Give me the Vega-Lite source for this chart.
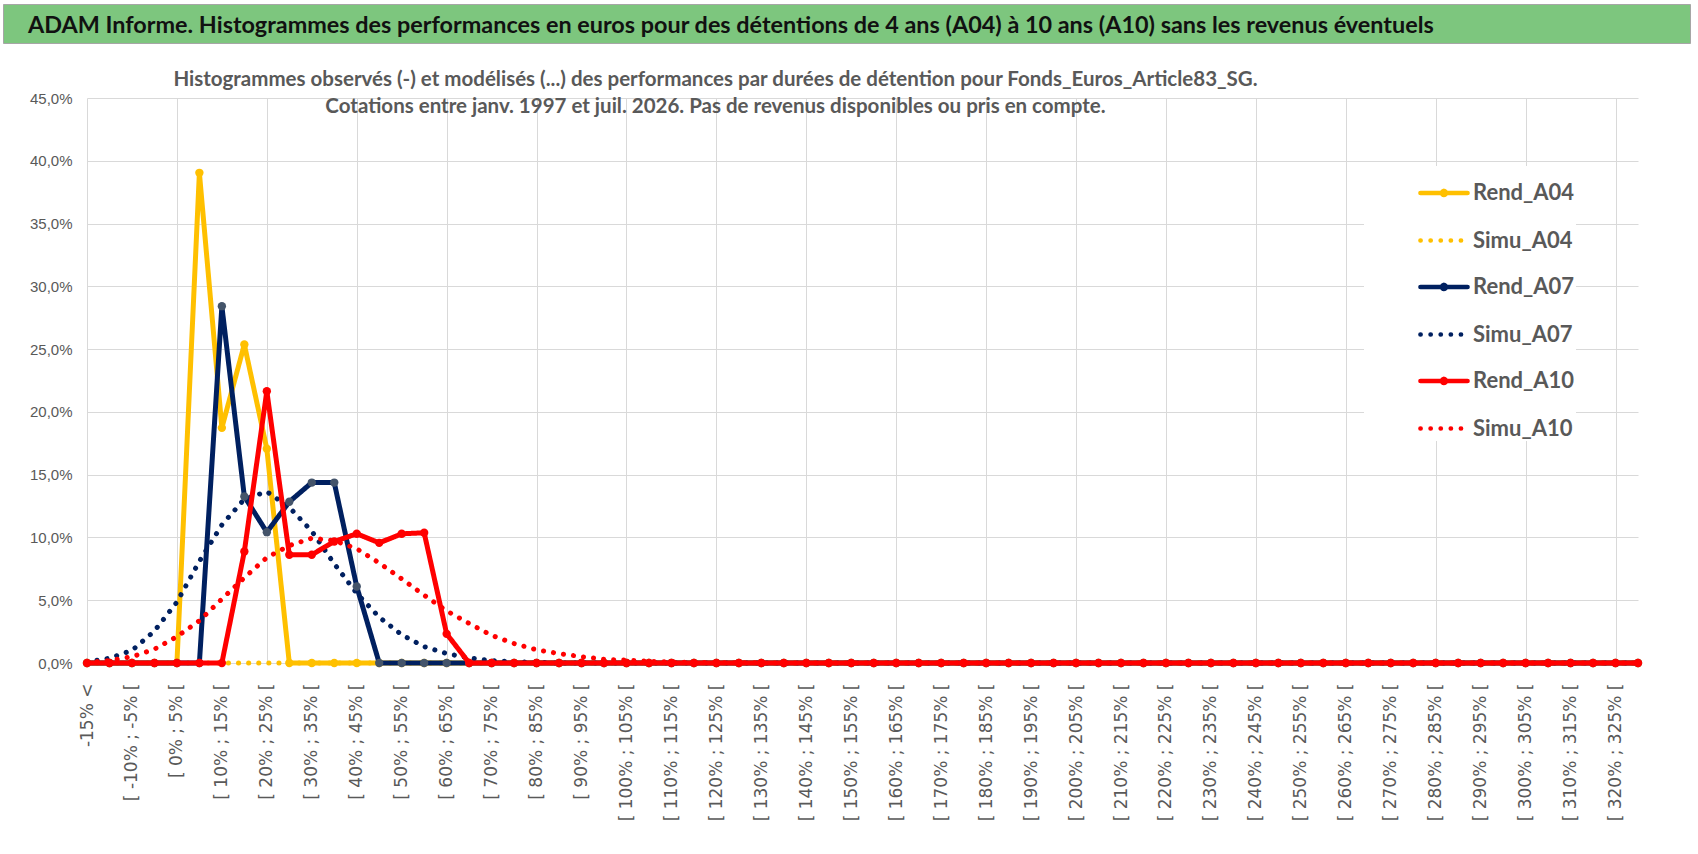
{
  "$schema": "https://vega.github.io/schema/vega-lite/v6.json",
  "padding": {"left": 2, "top": 3, "right": 0, "bottom": 0},
  "background": "white",
  "spacing": 25,
  "datasets": {
    "histo": [
      {"s":"Rend_A04","x":-20,"v":0},{"s":"Rend_A04","x":-15,"v":0},{"s":"Rend_A04","x":-10,"v":0},{"s":"Rend_A04","x":-5,"v":0},{"s":"Rend_A04","x":0,"v":0},
      {"s":"Rend_A04","x":5,"v":0.3904},{"s":"Rend_A04","x":10,"v":0.1873},{"s":"Rend_A04","x":15,"v":0.2537},{"s":"Rend_A04","x":20,"v":0.1706},{"s":"Rend_A04","x":25,"v":0},
      {"s":"Rend_A04","x":30,"v":0},{"s":"Rend_A04","x":35,"v":0},{"s":"Rend_A04","x":40,"v":0},{"s":"Rend_A04","x":45,"v":0},{"s":"Rend_A04","x":50,"v":0},
      {"s":"Rend_A04","x":55,"v":0},{"s":"Rend_A04","x":60,"v":0},{"s":"Rend_A04","x":65,"v":0},{"s":"Rend_A04","x":70,"v":0},{"s":"Rend_A04","x":75,"v":0},
      {"s":"Rend_A04","x":80,"v":0},{"s":"Rend_A04","x":85,"v":0},{"s":"Rend_A04","x":90,"v":0},{"s":"Rend_A04","x":95,"v":0},{"s":"Rend_A04","x":100,"v":0},
      {"s":"Rend_A04","x":105,"v":0},{"s":"Rend_A04","x":110,"v":0},{"s":"Rend_A04","x":115,"v":0},{"s":"Rend_A04","x":120,"v":0},{"s":"Rend_A04","x":125,"v":0},
      {"s":"Rend_A04","x":130,"v":0},{"s":"Rend_A04","x":135,"v":0},{"s":"Rend_A04","x":140,"v":0},{"s":"Rend_A04","x":145,"v":0},{"s":"Rend_A04","x":150,"v":0},
      {"s":"Rend_A04","x":155,"v":0},{"s":"Rend_A04","x":160,"v":0},{"s":"Rend_A04","x":165,"v":0},{"s":"Rend_A04","x":170,"v":0},{"s":"Rend_A04","x":175,"v":0},
      {"s":"Rend_A04","x":180,"v":0},{"s":"Rend_A04","x":185,"v":0},{"s":"Rend_A04","x":190,"v":0},{"s":"Rend_A04","x":195,"v":0},{"s":"Rend_A04","x":200,"v":0},
      {"s":"Rend_A04","x":205,"v":0},{"s":"Rend_A04","x":210,"v":0},{"s":"Rend_A04","x":215,"v":0},{"s":"Rend_A04","x":220,"v":0},{"s":"Rend_A04","x":225,"v":0},
      {"s":"Rend_A04","x":230,"v":0},{"s":"Rend_A04","x":235,"v":0},{"s":"Rend_A04","x":240,"v":0},{"s":"Rend_A04","x":245,"v":0},{"s":"Rend_A04","x":250,"v":0},
      {"s":"Rend_A04","x":255,"v":0},{"s":"Rend_A04","x":260,"v":0},{"s":"Rend_A04","x":265,"v":0},{"s":"Rend_A04","x":270,"v":0},{"s":"Rend_A04","x":275,"v":0},
      {"s":"Rend_A04","x":280,"v":0},{"s":"Rend_A04","x":285,"v":0},{"s":"Rend_A04","x":290,"v":0},{"s":"Rend_A04","x":295,"v":0},{"s":"Rend_A04","x":300,"v":0},
      {"s":"Rend_A04","x":305,"v":0},{"s":"Rend_A04","x":310,"v":0},{"s":"Rend_A04","x":315,"v":0},{"s":"Rend_A04","x":320,"v":0},{"s":"Rend_A04","x":325,"v":0},

      {"s":"Simu_A04","x":-20,"v":0},{"s":"Simu_A04","x":-15,"v":0},{"s":"Simu_A04","x":-10,"v":0},{"s":"Simu_A04","x":-5,"v":0},{"s":"Simu_A04","x":0,"v":0},
      {"s":"Simu_A04","x":5,"v":0},{"s":"Simu_A04","x":10,"v":0},{"s":"Simu_A04","x":15,"v":0},{"s":"Simu_A04","x":20,"v":0},{"s":"Simu_A04","x":25,"v":0},
      {"s":"Simu_A04","x":30,"v":0},{"s":"Simu_A04","x":35,"v":0},{"s":"Simu_A04","x":40,"v":0},{"s":"Simu_A04","x":45,"v":0},{"s":"Simu_A04","x":50,"v":0},
      {"s":"Simu_A04","x":55,"v":0},{"s":"Simu_A04","x":60,"v":0},{"s":"Simu_A04","x":65,"v":0},{"s":"Simu_A04","x":70,"v":0},{"s":"Simu_A04","x":75,"v":0},
      {"s":"Simu_A04","x":80,"v":0},{"s":"Simu_A04","x":85,"v":0},{"s":"Simu_A04","x":90,"v":0},{"s":"Simu_A04","x":95,"v":0},{"s":"Simu_A04","x":100,"v":0},
      {"s":"Simu_A04","x":105,"v":0},{"s":"Simu_A04","x":110,"v":0},{"s":"Simu_A04","x":115,"v":0},{"s":"Simu_A04","x":120,"v":0},{"s":"Simu_A04","x":125,"v":0},
      {"s":"Simu_A04","x":130,"v":0},{"s":"Simu_A04","x":135,"v":0},{"s":"Simu_A04","x":140,"v":0},{"s":"Simu_A04","x":145,"v":0},{"s":"Simu_A04","x":150,"v":0},
      {"s":"Simu_A04","x":155,"v":0},{"s":"Simu_A04","x":160,"v":0},{"s":"Simu_A04","x":165,"v":0},{"s":"Simu_A04","x":170,"v":0},{"s":"Simu_A04","x":175,"v":0},
      {"s":"Simu_A04","x":180,"v":0},{"s":"Simu_A04","x":185,"v":0},{"s":"Simu_A04","x":190,"v":0},{"s":"Simu_A04","x":195,"v":0},{"s":"Simu_A04","x":200,"v":0},
      {"s":"Simu_A04","x":205,"v":0},{"s":"Simu_A04","x":210,"v":0},{"s":"Simu_A04","x":215,"v":0},{"s":"Simu_A04","x":220,"v":0},{"s":"Simu_A04","x":225,"v":0},
      {"s":"Simu_A04","x":230,"v":0},{"s":"Simu_A04","x":235,"v":0},{"s":"Simu_A04","x":240,"v":0},{"s":"Simu_A04","x":245,"v":0},{"s":"Simu_A04","x":250,"v":0},
      {"s":"Simu_A04","x":255,"v":0},{"s":"Simu_A04","x":260,"v":0},{"s":"Simu_A04","x":265,"v":0},{"s":"Simu_A04","x":270,"v":0},{"s":"Simu_A04","x":275,"v":0},
      {"s":"Simu_A04","x":280,"v":0},{"s":"Simu_A04","x":285,"v":0},{"s":"Simu_A04","x":290,"v":0},{"s":"Simu_A04","x":295,"v":0},{"s":"Simu_A04","x":300,"v":0},
      {"s":"Simu_A04","x":305,"v":0},{"s":"Simu_A04","x":310,"v":0},{"s":"Simu_A04","x":315,"v":0},{"s":"Simu_A04","x":320,"v":0},{"s":"Simu_A04","x":325,"v":0},

      {"s":"Rend_A07","x":-20,"v":0},{"s":"Rend_A07","x":-15,"v":0},{"s":"Rend_A07","x":-10,"v":0},{"s":"Rend_A07","x":-5,"v":0},{"s":"Rend_A07","x":0,"v":0},
      {"s":"Rend_A07","x":5,"v":0},{"s":"Rend_A07","x":10,"v":0.2842},{"s":"Rend_A07","x":15,"v":0.1326},{"s":"Rend_A07","x":20,"v":0.1042},{"s":"Rend_A07","x":25,"v":0.1284},
      {"s":"Rend_A07","x":30,"v":0.1437},{"s":"Rend_A07","x":35,"v":0.1437},{"s":"Rend_A07","x":40,"v":0.0609},{"s":"Rend_A07","x":45,"v":0},{"s":"Rend_A07","x":50,"v":0},
      {"s":"Rend_A07","x":55,"v":0},{"s":"Rend_A07","x":60,"v":0},{"s":"Rend_A07","x":65,"v":0},{"s":"Rend_A07","x":70,"v":0},{"s":"Rend_A07","x":75,"v":0},
      {"s":"Rend_A07","x":80,"v":0},{"s":"Rend_A07","x":85,"v":0},{"s":"Rend_A07","x":90,"v":0},{"s":"Rend_A07","x":95,"v":0},{"s":"Rend_A07","x":100,"v":0},
      {"s":"Rend_A07","x":105,"v":0},{"s":"Rend_A07","x":110,"v":0},{"s":"Rend_A07","x":115,"v":0},{"s":"Rend_A07","x":120,"v":0},{"s":"Rend_A07","x":125,"v":0},
      {"s":"Rend_A07","x":130,"v":0},{"s":"Rend_A07","x":135,"v":0},{"s":"Rend_A07","x":140,"v":0},{"s":"Rend_A07","x":145,"v":0},{"s":"Rend_A07","x":150,"v":0},
      {"s":"Rend_A07","x":155,"v":0},{"s":"Rend_A07","x":160,"v":0},{"s":"Rend_A07","x":165,"v":0},{"s":"Rend_A07","x":170,"v":0},{"s":"Rend_A07","x":175,"v":0},
      {"s":"Rend_A07","x":180,"v":0},{"s":"Rend_A07","x":185,"v":0},{"s":"Rend_A07","x":190,"v":0},{"s":"Rend_A07","x":195,"v":0},{"s":"Rend_A07","x":200,"v":0},
      {"s":"Rend_A07","x":205,"v":0},{"s":"Rend_A07","x":210,"v":0},{"s":"Rend_A07","x":215,"v":0},{"s":"Rend_A07","x":220,"v":0},{"s":"Rend_A07","x":225,"v":0},
      {"s":"Rend_A07","x":230,"v":0},{"s":"Rend_A07","x":235,"v":0},{"s":"Rend_A07","x":240,"v":0},{"s":"Rend_A07","x":245,"v":0},{"s":"Rend_A07","x":250,"v":0},
      {"s":"Rend_A07","x":255,"v":0},{"s":"Rend_A07","x":260,"v":0},{"s":"Rend_A07","x":265,"v":0},{"s":"Rend_A07","x":270,"v":0},{"s":"Rend_A07","x":275,"v":0},
      {"s":"Rend_A07","x":280,"v":0},{"s":"Rend_A07","x":285,"v":0},{"s":"Rend_A07","x":290,"v":0},{"s":"Rend_A07","x":295,"v":0},{"s":"Rend_A07","x":300,"v":0},
      {"s":"Rend_A07","x":305,"v":0},{"s":"Rend_A07","x":310,"v":0},{"s":"Rend_A07","x":315,"v":0},{"s":"Rend_A07","x":320,"v":0},{"s":"Rend_A07","x":325,"v":0},

      {"s":"Simu_A07","x":-20,"v":0.001},{"s":"Simu_A07","x":-15,"v":0.0038},{"s":"Simu_A07","x":-10,"v":0.01},{"s":"Simu_A07","x":-5,"v":0.0255},{"s":"Simu_A07","x":0,"v":0.0485},
      {"s":"Simu_A07","x":5,"v":0.081},{"s":"Simu_A07","x":10,"v":0.11},{"s":"Simu_A07","x":15,"v":0.1305},{"s":"Simu_A07","x":20,"v":0.1365},{"s":"Simu_A07","x":25,"v":0.124},
      {"s":"Simu_A07","x":30,"v":0.105},{"s":"Simu_A07","x":35,"v":0.079},{"s":"Simu_A07","x":40,"v":0.0555},{"s":"Simu_A07","x":45,"v":0.0365},{"s":"Simu_A07","x":50,"v":0.0225},
      {"s":"Simu_A07","x":55,"v":0.013},{"s":"Simu_A07","x":60,"v":0.0075},{"s":"Simu_A07","x":65,"v":0.004},{"s":"Simu_A07","x":70,"v":0.002},{"s":"Simu_A07","x":75,"v":0.001},
      {"s":"Simu_A07","x":80,"v":0.0005},{"s":"Simu_A07","x":85,"v":0},{"s":"Simu_A07","x":90,"v":0},{"s":"Simu_A07","x":95,"v":0},{"s":"Simu_A07","x":100,"v":0},
      {"s":"Simu_A07","x":105,"v":0},{"s":"Simu_A07","x":110,"v":0},{"s":"Simu_A07","x":115,"v":0},{"s":"Simu_A07","x":120,"v":0},{"s":"Simu_A07","x":125,"v":0},
      {"s":"Simu_A07","x":130,"v":0},{"s":"Simu_A07","x":135,"v":0},{"s":"Simu_A07","x":140,"v":0},{"s":"Simu_A07","x":145,"v":0},{"s":"Simu_A07","x":150,"v":0},
      {"s":"Simu_A07","x":155,"v":0},{"s":"Simu_A07","x":160,"v":0},{"s":"Simu_A07","x":165,"v":0},{"s":"Simu_A07","x":170,"v":0},{"s":"Simu_A07","x":175,"v":0},
      {"s":"Simu_A07","x":180,"v":0},{"s":"Simu_A07","x":185,"v":0},{"s":"Simu_A07","x":190,"v":0},{"s":"Simu_A07","x":195,"v":0},{"s":"Simu_A07","x":200,"v":0},
      {"s":"Simu_A07","x":205,"v":0},{"s":"Simu_A07","x":210,"v":0},{"s":"Simu_A07","x":215,"v":0},{"s":"Simu_A07","x":220,"v":0},{"s":"Simu_A07","x":225,"v":0},
      {"s":"Simu_A07","x":230,"v":0},{"s":"Simu_A07","x":235,"v":0},{"s":"Simu_A07","x":240,"v":0},{"s":"Simu_A07","x":245,"v":0},{"s":"Simu_A07","x":250,"v":0},
      {"s":"Simu_A07","x":255,"v":0},{"s":"Simu_A07","x":260,"v":0},{"s":"Simu_A07","x":265,"v":0},{"s":"Simu_A07","x":270,"v":0},{"s":"Simu_A07","x":275,"v":0},
      {"s":"Simu_A07","x":280,"v":0},{"s":"Simu_A07","x":285,"v":0},{"s":"Simu_A07","x":290,"v":0},{"s":"Simu_A07","x":295,"v":0},{"s":"Simu_A07","x":300,"v":0},
      {"s":"Simu_A07","x":305,"v":0},{"s":"Simu_A07","x":310,"v":0},{"s":"Simu_A07","x":315,"v":0},{"s":"Simu_A07","x":320,"v":0},{"s":"Simu_A07","x":325,"v":0},

      {"s":"Rend_A10","x":-20,"v":0},{"s":"Rend_A10","x":-15,"v":0},{"s":"Rend_A10","x":-10,"v":0},{"s":"Rend_A10","x":-5,"v":0},{"s":"Rend_A10","x":0,"v":0},
      {"s":"Rend_A10","x":5,"v":0},{"s":"Rend_A10","x":10,"v":0},{"s":"Rend_A10","x":15,"v":0.0888},{"s":"Rend_A10","x":20,"v":0.2165},{"s":"Rend_A10","x":25,"v":0.0862},
      {"s":"Rend_A10","x":30,"v":0.0862},{"s":"Rend_A10","x":35,"v":0.0968},{"s":"Rend_A10","x":40,"v":0.1029},{"s":"Rend_A10","x":45,"v":0.0957},{"s":"Rend_A10","x":50,"v":0.1029},
      {"s":"Rend_A10","x":55,"v":0.1037},{"s":"Rend_A10","x":60,"v":0.0232},{"s":"Rend_A10","x":65,"v":0},{"s":"Rend_A10","x":70,"v":0},{"s":"Rend_A10","x":75,"v":0},
      {"s":"Rend_A10","x":80,"v":0},{"s":"Rend_A10","x":85,"v":0},{"s":"Rend_A10","x":90,"v":0},{"s":"Rend_A10","x":95,"v":0},{"s":"Rend_A10","x":100,"v":0},
      {"s":"Rend_A10","x":105,"v":0},{"s":"Rend_A10","x":110,"v":0},{"s":"Rend_A10","x":115,"v":0},{"s":"Rend_A10","x":120,"v":0},{"s":"Rend_A10","x":125,"v":0},
      {"s":"Rend_A10","x":130,"v":0},{"s":"Rend_A10","x":135,"v":0},{"s":"Rend_A10","x":140,"v":0},{"s":"Rend_A10","x":145,"v":0},{"s":"Rend_A10","x":150,"v":0},
      {"s":"Rend_A10","x":155,"v":0},{"s":"Rend_A10","x":160,"v":0},{"s":"Rend_A10","x":165,"v":0},{"s":"Rend_A10","x":170,"v":0},{"s":"Rend_A10","x":175,"v":0},
      {"s":"Rend_A10","x":180,"v":0},{"s":"Rend_A10","x":185,"v":0},{"s":"Rend_A10","x":190,"v":0},{"s":"Rend_A10","x":195,"v":0},{"s":"Rend_A10","x":200,"v":0},
      {"s":"Rend_A10","x":205,"v":0},{"s":"Rend_A10","x":210,"v":0},{"s":"Rend_A10","x":215,"v":0},{"s":"Rend_A10","x":220,"v":0},{"s":"Rend_A10","x":225,"v":0},
      {"s":"Rend_A10","x":230,"v":0},{"s":"Rend_A10","x":235,"v":0},{"s":"Rend_A10","x":240,"v":0},{"s":"Rend_A10","x":245,"v":0},{"s":"Rend_A10","x":250,"v":0},
      {"s":"Rend_A10","x":255,"v":0},{"s":"Rend_A10","x":260,"v":0},{"s":"Rend_A10","x":265,"v":0},{"s":"Rend_A10","x":270,"v":0},{"s":"Rend_A10","x":275,"v":0},
      {"s":"Rend_A10","x":280,"v":0},{"s":"Rend_A10","x":285,"v":0},{"s":"Rend_A10","x":290,"v":0},{"s":"Rend_A10","x":295,"v":0},{"s":"Rend_A10","x":300,"v":0},
      {"s":"Rend_A10","x":305,"v":0},{"s":"Rend_A10","x":310,"v":0},{"s":"Rend_A10","x":315,"v":0},{"s":"Rend_A10","x":320,"v":0},{"s":"Rend_A10","x":325,"v":0},

      {"s":"Simu_A10","x":-20,"v":0.0005},{"s":"Simu_A10","x":-15,"v":0.002},{"s":"Simu_A10","x":-10,"v":0.005},{"s":"Simu_A10","x":-5,"v":0.011},{"s":"Simu_A10","x":0,"v":0.021},
      {"s":"Simu_A10","x":5,"v":0.0337},{"s":"Simu_A10","x":10,"v":0.051},{"s":"Simu_A10","x":15,"v":0.068},{"s":"Simu_A10","x":20,"v":0.084},{"s":"Simu_A10","x":25,"v":0.0935},
      {"s":"Simu_A10","x":30,"v":0.0994},{"s":"Simu_A10","x":35,"v":0.0975},{"s":"Simu_A10","x":40,"v":0.091},{"s":"Simu_A10","x":45,"v":0.0797},{"s":"Simu_A10","x":50,"v":0.067},
      {"s":"Simu_A10","x":55,"v":0.054},{"s":"Simu_A10","x":60,"v":0.0415},{"s":"Simu_A10","x":65,"v":0.0315},{"s":"Simu_A10","x":70,"v":0.022},{"s":"Simu_A10","x":75,"v":0.0155},
      {"s":"Simu_A10","x":80,"v":0.0105},{"s":"Simu_A10","x":85,"v":0.0075},{"s":"Simu_A10","x":90,"v":0.005},{"s":"Simu_A10","x":95,"v":0.003},{"s":"Simu_A10","x":100,"v":0.0022},
      {"s":"Simu_A10","x":105,"v":0.0014},{"s":"Simu_A10","x":110,"v":0.0009},{"s":"Simu_A10","x":115,"v":0.0005},{"s":"Simu_A10","x":120,"v":0.0003},{"s":"Simu_A10","x":125,"v":0.0002},
      {"s":"Simu_A10","x":130,"v":0.0001},{"s":"Simu_A10","x":135,"v":0},{"s":"Simu_A10","x":140,"v":0},{"s":"Simu_A10","x":145,"v":0},{"s":"Simu_A10","x":150,"v":0},
      {"s":"Simu_A10","x":155,"v":0},{"s":"Simu_A10","x":160,"v":0},{"s":"Simu_A10","x":165,"v":0},{"s":"Simu_A10","x":170,"v":0},{"s":"Simu_A10","x":175,"v":0},
      {"s":"Simu_A10","x":180,"v":0},{"s":"Simu_A10","x":185,"v":0},{"s":"Simu_A10","x":190,"v":0},{"s":"Simu_A10","x":195,"v":0},{"s":"Simu_A10","x":200,"v":0},
      {"s":"Simu_A10","x":205,"v":0},{"s":"Simu_A10","x":210,"v":0},{"s":"Simu_A10","x":215,"v":0},{"s":"Simu_A10","x":220,"v":0},{"s":"Simu_A10","x":225,"v":0},
      {"s":"Simu_A10","x":230,"v":0},{"s":"Simu_A10","x":235,"v":0},{"s":"Simu_A10","x":240,"v":0},{"s":"Simu_A10","x":245,"v":0},{"s":"Simu_A10","x":250,"v":0},
      {"s":"Simu_A10","x":255,"v":0},{"s":"Simu_A10","x":260,"v":0},{"s":"Simu_A10","x":265,"v":0},{"s":"Simu_A10","x":270,"v":0},{"s":"Simu_A10","x":275,"v":0},
      {"s":"Simu_A10","x":280,"v":0},{"s":"Simu_A10","x":285,"v":0},{"s":"Simu_A10","x":290,"v":0},{"s":"Simu_A10","x":295,"v":0},{"s":"Simu_A10","x":300,"v":0},
      {"s":"Simu_A10","x":305,"v":0},{"s":"Simu_A10","x":310,"v":0},{"s":"Simu_A10","x":315,"v":0},{"s":"Simu_A10","x":320,"v":0},{"s":"Simu_A10","x":325,"v":0}
    ]
  },
  "vconcat": [
    {
      "width": 1687,
      "height": 39,
      "view": {"fill": "#7DC67E", "stroke": "#A6A6A6"},
      "title": {
        "text": "ADAM Informe. Histogrammes des performances en euros pour des détentions de 4 ans (A04) à 10 ans (A10) sans les revenus éventuels",
        "anchor": "start",
        "frame": "group",
        "dx": 25,
        "offset": -34,
        "font": "Lato",
        "fontSize": 23.4,
        "fontWeight": "bold",
        "color": "#111111"
      },
      "data": {"values": [{}]},
      "mark": {"type": "text", "text": ""},
      "encoding": {}
    },
    {
      "width": 1635,
      "height": 565,
      "view": {"stroke": null},
      "title": {
        "text": [
          "Histogrammes observés (-) et modélisés (...) des performances par durées de détention pour Fonds_Euros_Article83_SG.",
          "Cotations entre janv. 1997 et juil. 2026. Pas de revenus disponibles ou pris en compte."
        ],
        "anchor": "middle",
        "frame": "group",
        "dx": -105,
        "offset": -26,
        "lineHeight": 27,
        "font": "Lato",
        "fontSize": 20.5,
        "fontWeight": "bold",
        "color": "#595959"
      },
      "data": {"name": "histo"},
      "encoding": {
        "x": {
          "field": "x",
          "type": "quantitative",
          "title": null,
          "scale": {"domain": [-20, 325], "range": [84, 1635], "nice": false, "zero": false},
          "axis": {
            "values": [-20, -10, 0, 10, 20, 30, 40, 50, 60, 70, 80, 90, 100, 110, 120, 130, 140, 150, 160, 170, 180, 190, 200, 210, 220, 230, 240, 250, 260, 270, 280, 290, 300, 310, 320],
            "labelExpr": "datum.value == -20 ? '-15% <' : '[ ' + datum.value + '% ; ' + (datum.value + 5) + '% ['",
            "labelAngle": -90,
            "labelPadding": 20,
            "labelFont": "DejaVu Sans",
            "labelFontSize": 17,
            "labelColor": "#595959",
            "labelOverlap": false,
            "labelBound": false,
            "labelFlush": false,
            "grid": true,
            "gridColor": "#D9D9D9",
            "gridOpacity": {"condition": {"test": "datum.value % 20 == 0", "value": 1}, "value": 0},
            "ticks": false,
            "domain": false
          }
        },
        "y": {
          "field": "v",
          "type": "quantitative",
          "title": null,
          "scale": {"domain": [0, 0.45], "nice": false},
          "axis": {
            "values": [0, 0.05, 0.1, 0.15, 0.2, 0.25, 0.3, 0.35, 0.4, 0.45],
            "labelExpr": "replace(format(datum.value, '.1%'), '.', ',')",
            "labelFont": "Liberation Sans",
            "labelFontSize": 15,
            "labelColor": "#595959",
            "labelPadding": 15,
            "labelFlush": false,
            "offset": -84,
            "grid": true,
            "gridColor": "#D9D9D9",
            "ticks": false,
            "domain": false
          }
        }
      },
      "layer": [
        {
          "transform": [{"filter": {"field": "s", "oneOf": ["Rend_A04", "Simu_A04"]}}],
          "mark": {"type": "line", "strokeWidth": 5, "strokeCap": "round", "strokeJoin": "round"},
          "encoding": {
            "color": {
              "field": "s", "type": "nominal",
              "scale": {"domain": ["Rend_A04", "Simu_A04", "Rend_A07", "Simu_A07", "Rend_A10", "Simu_A10"], "range": ["#FFC000", "#FFC000", "#002060", "#002060", "#FF0000", "#FF0000"]},
              "legend": {
                "title": null, "orient": "none", "legendX": 1361, "legendY": 162,
                "fillColor": "white", "padding": 1, "symbolOffset": 53,
                "symbolType": "stroke", "symbolSize": 2209, "symbolStrokeWidth": 4.7,
                "labelFont": "Lato",
                "labelFontSize": 22, "labelFontWeight": "bold", "labelColor": "#595959",
                "labelOffset": 3, "rowPadding": 9.5, "labelLimit": 300,
                "encode": {"symbols": {"update": {
                  "shape": {"signal": "slice(datum.value, 0, 4) == 'Rend' ? 'M-1,0L1,0M0.08,0A0.08,0.08,0,1,1,-0.08,0A0.08,0.08,0,1,1,0.08,0Z' : 'stroke'"},
                  "fill": {"scale": "color", "field": "value"},
                  "strokeCap": {"value": "round"}
                }}}
              }
            },
            "strokeDash": {
              "field": "s", "type": "nominal",
              "scale": {"domain": ["Rend_A04", "Simu_A04", "Rend_A07", "Simu_A07", "Rend_A10", "Simu_A10"], "range": [[1, 0], [0.1, 10], [1, 0], [0.1, 10], [1, 0], [0.1, 10]]}
            }
          }
        },
        {
          "transform": [{"filter": {"field": "s", "equal": "Rend_A04"}}],
          "mark": {"type": "point", "filled": true, "size": 70, "opacity": 1, "color": "#FFC000"}
        },
        {
          "transform": [{"filter": {"field": "s", "oneOf": ["Rend_A07", "Simu_A07"]}}],
          "mark": {"type": "line", "strokeWidth": 5, "strokeCap": "round", "strokeJoin": "round"},
          "encoding": {
            "color": {
              "field": "s", "type": "nominal",
              "scale": {"domain": ["Rend_A04", "Simu_A04", "Rend_A07", "Simu_A07", "Rend_A10", "Simu_A10"], "range": ["#FFC000", "#FFC000", "#002060", "#002060", "#FF0000", "#FF0000"]}
            },
            "strokeDash": {
              "field": "s", "type": "nominal",
              "scale": {"domain": ["Rend_A04", "Simu_A04", "Rend_A07", "Simu_A07", "Rend_A10", "Simu_A10"], "range": [[1, 0], [0.1, 10], [1, 0], [0.1, 10], [1, 0], [0.1, 10]]}
            }
          }
        },
        {
          "transform": [{"filter": {"field": "s", "equal": "Rend_A07"}}],
          "mark": {"type": "point", "filled": true, "size": 70, "opacity": 1, "color": "#44546A"}
        },
        {
          "transform": [{"filter": {"field": "s", "oneOf": ["Rend_A10", "Simu_A10"]}}],
          "mark": {"type": "line", "strokeWidth": 5, "strokeCap": "round", "strokeJoin": "round"},
          "encoding": {
            "color": {
              "field": "s", "type": "nominal",
              "scale": {"domain": ["Rend_A04", "Simu_A04", "Rend_A07", "Simu_A07", "Rend_A10", "Simu_A10"], "range": ["#FFC000", "#FFC000", "#002060", "#002060", "#FF0000", "#FF0000"]}
            },
            "strokeDash": {
              "field": "s", "type": "nominal",
              "scale": {"domain": ["Rend_A04", "Simu_A04", "Rend_A07", "Simu_A07", "Rend_A10", "Simu_A10"], "range": [[1, 0], [0.1, 10], [1, 0], [0.1, 10], [1, 0], [0.1, 10]]}
            }
          }
        },
        {
          "transform": [{"filter": {"field": "s", "equal": "Rend_A10"}}],
          "mark": {"type": "point", "filled": true, "size": 70, "opacity": 1, "color": "#FF0000"}
        }
      ]
    }
  ]
}
